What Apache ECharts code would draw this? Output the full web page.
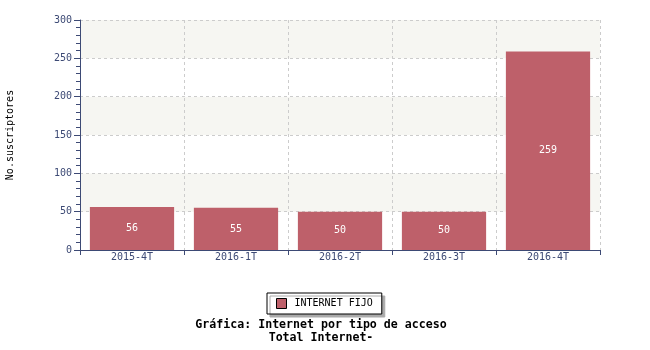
<!DOCTYPE html>
<html><head><meta charset="utf-8">
<script src="https://cdn.jsdelivr.net/npm/echarts@6/dist/echarts.min.js"></script>
<style>html,body{margin:0;padding:0;background:#fff}#c{width:650px;height:350px}</style>
</head><body><div id="c"></div>
<script>
const categories = ['2015-4T','2016-1T','2016-2T','2016-3T','2016-4T'];
const values = [56, 55, 50, 50, 259];
const seriesName = 'INTERNET FIJO';
const yTicks = [0, 50, 100, 150, 200, 250, 300];
const titleLines = ['Gráfica: Internet por tipo de acceso', 'Total Internet-'];
const yAxisName = 'No.suscriptores';

const font = 'DejaVu Sans Mono';
const axisColor = '#3d4a75';
const chart = echarts.init(document.getElementById('c'), null, {renderer:'canvas'});
chart.setOption({
  animation: false,
  textStyle: {fontFamily: font},
  grid: {left: 80, right: 50, top: 20, bottom: 100, containLabel: false, outerBoundsMode: 'none'},
  title: {
    text: titleLines.join('\n'), left: 316, top: 313, textAlign: 'center',
    textStyle: {fontFamily: font, fontSize: 11.6, fontWeight: 'bold', color: '#000', lineHeight: 13}
  },
  legend: {
    data: [seriesName], left: 267, top: 293, itemWidth: 10, itemHeight: 10,
    padding: [5, 9, 5, 9], borderColor: '#000', borderWidth: 1, backgroundColor: '#fff',
    shadowColor: '#aaa', shadowOffsetX: 3, shadowOffsetY: 3, shadowBlur: 0,
    itemGap: 5,
    itemStyle: {borderColor: '#000', borderWidth: 1},
    textStyle: {fontFamily: font, fontSize: 10, color: '#000', padding: [0, 0, 0, 3]},
    icon: 'rect'
  },
  xAxis: {
    type: 'category', data: categories,
    axisLine: {lineStyle: {color: axisColor, width: 1}},
    axisTick: {show: true, length: 5, lineStyle: {color: axisColor}},
    axisLabel: {color: axisColor, fontSize: 10, margin: 2, fontFamily: font},
    splitLine: {show: true, lineStyle: {color: '#cccccc', type: [3, 3]}}
  },
  yAxis: {
    type: 'value', min: 0, max: 300, interval: 50,
    name: yAxisName, nameLocation: 'middle', nameGap: 65, nameRotate: 90,
    nameTextStyle: {color: '#000', fontSize: 10, fontFamily: font},
    axisLine: {show: true, lineStyle: {color: axisColor, width: 1}},
    axisTick: {show: true, length: 6, lineStyle: {color: axisColor}},
    minorTick: {show: true, splitNumber: 5, length: 4, lineStyle: {color: axisColor}},
    axisLabel: {color: axisColor, fontSize: 10, margin: 8, fontFamily: font,
      formatter: v => yTicks.includes(v) ? String(v) : ''},
    splitLine: {show: true, lineStyle: {color: '#cccccc', type: [3, 3]}},
    splitArea: {show: true, areaStyle: {color: ['#ffffff', '#f6f6f2']}}
  },
  series: [{
    name: seriesName, type: 'bar', data: values,
    barCategoryGap: '19%',
    itemStyle: {color: '#be606a'},
    label: {show: true, position: 'inside', color: '#fff', fontSize: 10, fontFamily: font}
  }]
});
</script></body></html>
